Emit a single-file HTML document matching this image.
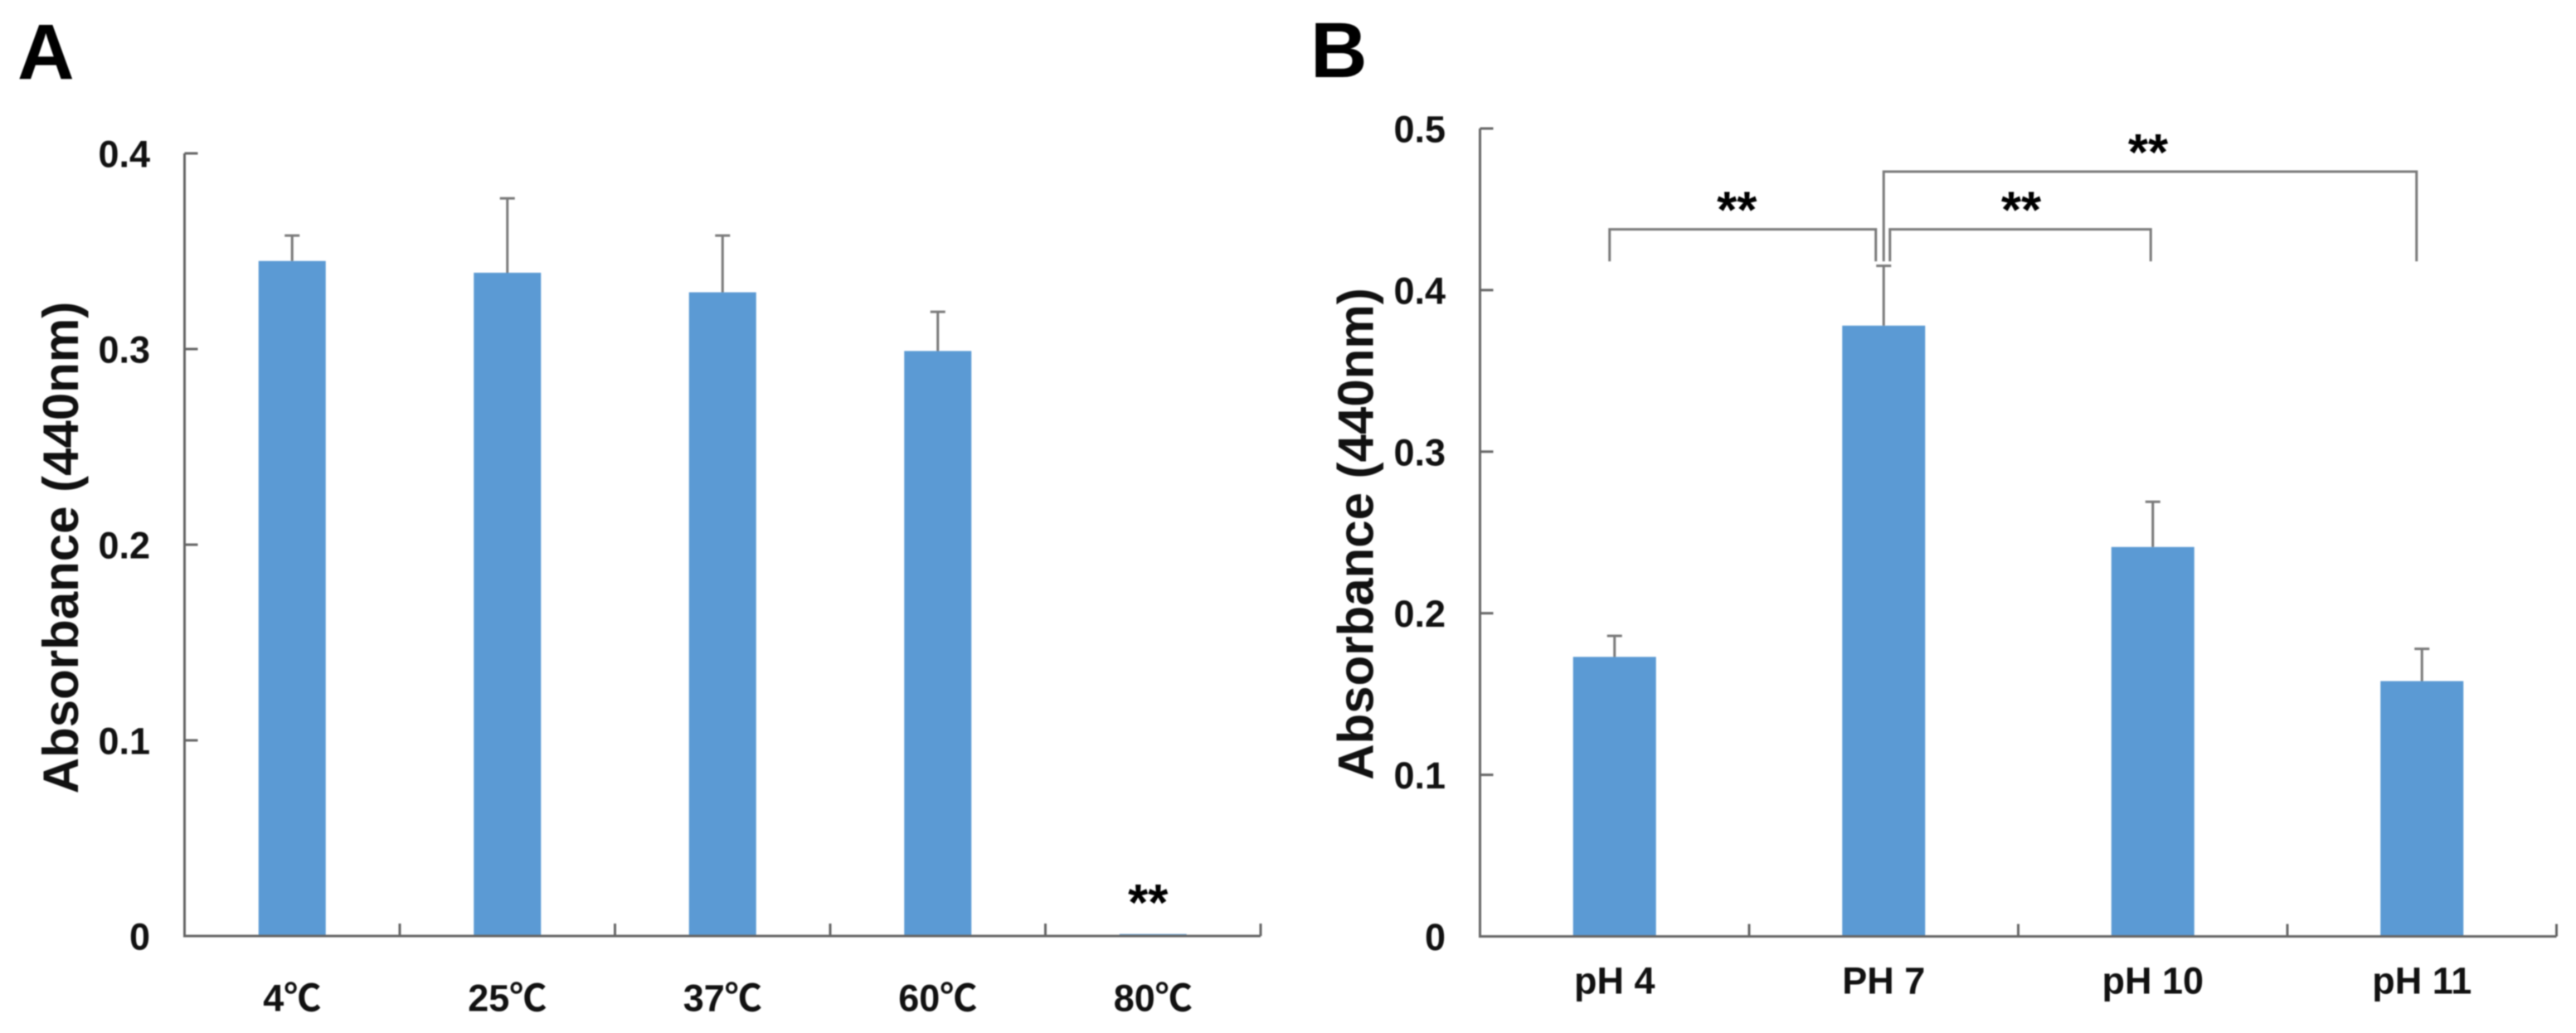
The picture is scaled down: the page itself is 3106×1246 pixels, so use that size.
<!DOCTYPE html>
<html lang="en">
<head>
<meta charset="utf-8">
<title>Absorbance by temperature and pH</title>
<style>
  html, body { margin: 0; padding: 0; background: #fff; }
  svg { display: block; filter: blur(0.7px); }
  text { font-family: "Liberation Sans", "Noto Sans CJK KR", sans-serif; font-weight: bold; fill: #111; }
  .tick { font-size: 45px; }
  .title { font-size: 60px; }
  .panel { font-size: 95px; fill: #000; }
  .star { font-size: 62px; fill: #000; }
</style>
</head>
<body>
<svg id="figure" xmlns="http://www.w3.org/2000/svg" width="3106" height="1246" viewBox="0 0 3106 1246">
  <rect width="3106" height="1246" fill="#ffffff"/>
  <g id="panel-a">
    <text class="panel" x="21" y="95">A</text>
    <text class="title" transform="translate(94,660.5) rotate(-90)" text-anchor="middle">Absorbance (440nm)</text>
  </g>
  <g id="panel-b">
    <text class="panel" x="1580" y="93">B</text>
    <text class="title" transform="translate(1655.5,644) rotate(-90)" text-anchor="middle">Absorbance (440nm)</text>
  </g>
</svg>
<script>
// Panel A data: temperature
var tempCategories = ['4\u2103', '25\u2103', '37\u2103', '60\u2103', '80\u2103'];
var tempValues = [0.345, 0.339, 0.329, 0.299, 0.001];
var tempErrors = [0.013, 0.038, 0.029, 0.020, 0];
var tempTickLabels = ['0', '0.1', '0.2', '0.3', '0.4'];
var tempStarCategories = [4];
var tempStarValues = [0.008];

// Panel B data: pH
var phCategories = ['pH 4', 'PH 7', 'pH 10', 'pH 11'];
var phValues = [0.173, 0.378, 0.241, 0.158];
var phErrors = [0.013, 0.037, 0.028, 0.020];
var phTickLabels = ['0', '0.1', '0.2', '0.3', '0.4', '0.5'];

// Panel B significance brackets: category indexes and levels on the value axis
var bracketFrom = [0, 1, 1];
var bracketTo = [1, 2, 3];
var bracketLevels = [0.4376, 0.4376, 0.4733];
var bracketFeet = [0.4178, 0.4178, 0.4178];

var NS = 'http://www.w3.org/2000/svg';
var AXIS_COLOR = '#666666';
var ERROR_COLOR = '#7a7a7a';
var BRACKET_COLOR = '#7a7a7a';
var BAR_COLOR = '#5b9ad4';

function make(tag, parent, attrs, content) {
  var el = document.createElementNS(NS, tag);
  for (var k in attrs) { el.setAttribute(k, attrs[k]); }
  if (content !== undefined) { el.textContent = content; }
  parent.appendChild(el);
  return el;
}

function drawPanel(parent, cfg) {
  var cats = cfg.categories, vals = cfg.values, errs = cfg.errors, labels = cfg.tickLabels;
  var maxV = parseFloat(labels[labels.length - 1]);
  var band = (cfg.xEnd - cfg.xStart) / cats.length;
  var xPos = function (i) { return cfg.xStart + band * (i + 0.5); };
  var yPos = function (v) { return cfg.yZero - (v / maxV) * (cfg.yZero - cfg.yTop); };
  var i, el;

  for (i = 0; i < cats.length; i++) {
    el = make('rect', parent, { x: xPos(i) - cfg.barWidth / 2, y: yPos(vals[i]), width: cfg.barWidth, height: cfg.yZero - yPos(vals[i]), fill: BAR_COLOR });
    
    

    if (errs[i] > 0) {
      var top = yPos(vals[i] + errs[i]);
      el = make('path', parent, { d: 'M' + xPos(i) + ' ' + yPos(vals[i]) + 'V' + top + 'M' + (xPos(i) - 9) + ' ' + top + 'H' + (xPos(i) + 9), stroke: ERROR_COLOR, 'stroke-width': 3, fill: 'none' });
      
      
    }

    el = make('text', parent, { 'class': 'tick', x: xPos(i), y: cfg.catBaseline, 'text-anchor': 'middle' }, cats[i]);
    
    
  }

  el = make('path', parent, { d: 'M' + cfg.xStart + ' ' + cfg.yTop + 'V' + cfg.yZero + 'H' + cfg.xEnd, stroke: AXIS_COLOR, 'stroke-width': 3, fill: 'none' });
  
  

  for (i = 0; i < labels.length; i++) {
    var tv = parseFloat(labels[i]);
    if (tv > 0) {
      el = make('line', parent, { x1: cfg.xStart, x2: cfg.xStart + 16, y1: yPos(tv), y2: yPos(tv), stroke: AXIS_COLOR, 'stroke-width': 3 });
      
      
    }
    el = make('text', parent, { 'class': 'tick', x: cfg.labelRight, y: yPos(tv) + 16.5, 'text-anchor': 'end' }, labels[i]);
    
    
  }

  for (i = 1; i <= cats.length; i++) {
    var tx = cfg.xStart + band * i;
    el = make('line', parent, { x1: tx, x2: tx, y1: cfg.yZero, y2: cfg.yZero - 15, stroke: AXIS_COLOR, 'stroke-width': 3 });
    
    
  }

  return { x: xPos, y: yPos };
}

var scaleA = drawPanel(document.getElementById('panel-a'), {
  categories: tempCategories, values: tempValues, errors: tempErrors, tickLabels: tempTickLabels,
  xStart: 222.5, xEnd: 1520, yTop: 185, yZero: 1129, barWidth: 81, labelRight: 181, catBaseline: 1219.5
});

var scaleB = drawPanel(document.getElementById('panel-b'), {
  categories: phCategories, values: phValues, errors: phErrors, tickLabels: phTickLabels,
  xStart: 1784.5, xEnd: 3082.5, yTop: 155, yZero: 1129.5, barWidth: 100, labelRight: 1743, catBaseline: 1198.5
});

var panelA = document.getElementById('panel-a');
var panelB = document.getElementById('panel-b');

for (var s = 0; s < tempStarCategories.length; s++) {
  var starA = make('text', panelA, { 'class': 'star', x: scaleA.x(tempStarCategories[s]) - 6, y: scaleA.y(tempStarValues[s]), 'text-anchor': 'middle' }, '**');
  
  
}

// Small horizontal nudges so bracket ends sit beside, not on, the bar centres
var nudgeFrom = [-6, 7.5, 0];
var nudgeTo = [-9.5, -2.5, -6.5];
var nudgeStar = [-7, 1, -2.5];

for (var b = 0; b < bracketFrom.length; b++) {
  var bx1 = scaleB.x(bracketFrom[b]) + nudgeFrom[b];
  var bx2 = scaleB.x(bracketTo[b]) + nudgeTo[b];
  var by = scaleB.y(bracketLevels[b]);
  var foot = scaleB.y(bracketFeet[b]);
  var br = make('path', panelB, { d: 'M' + bx1 + ' ' + foot + 'V' + by + 'H' + bx2 + 'V' + foot, stroke: BRACKET_COLOR, 'stroke-width': 3, fill: 'none' });
  
  

  var starB = make('text', panelB, { 'class': 'star', x: (bx1 + bx2) / 2 + nudgeStar[b], y: by - 2, 'text-anchor': 'middle' }, '**');
  
  
}
</script>
</body>
</html>
